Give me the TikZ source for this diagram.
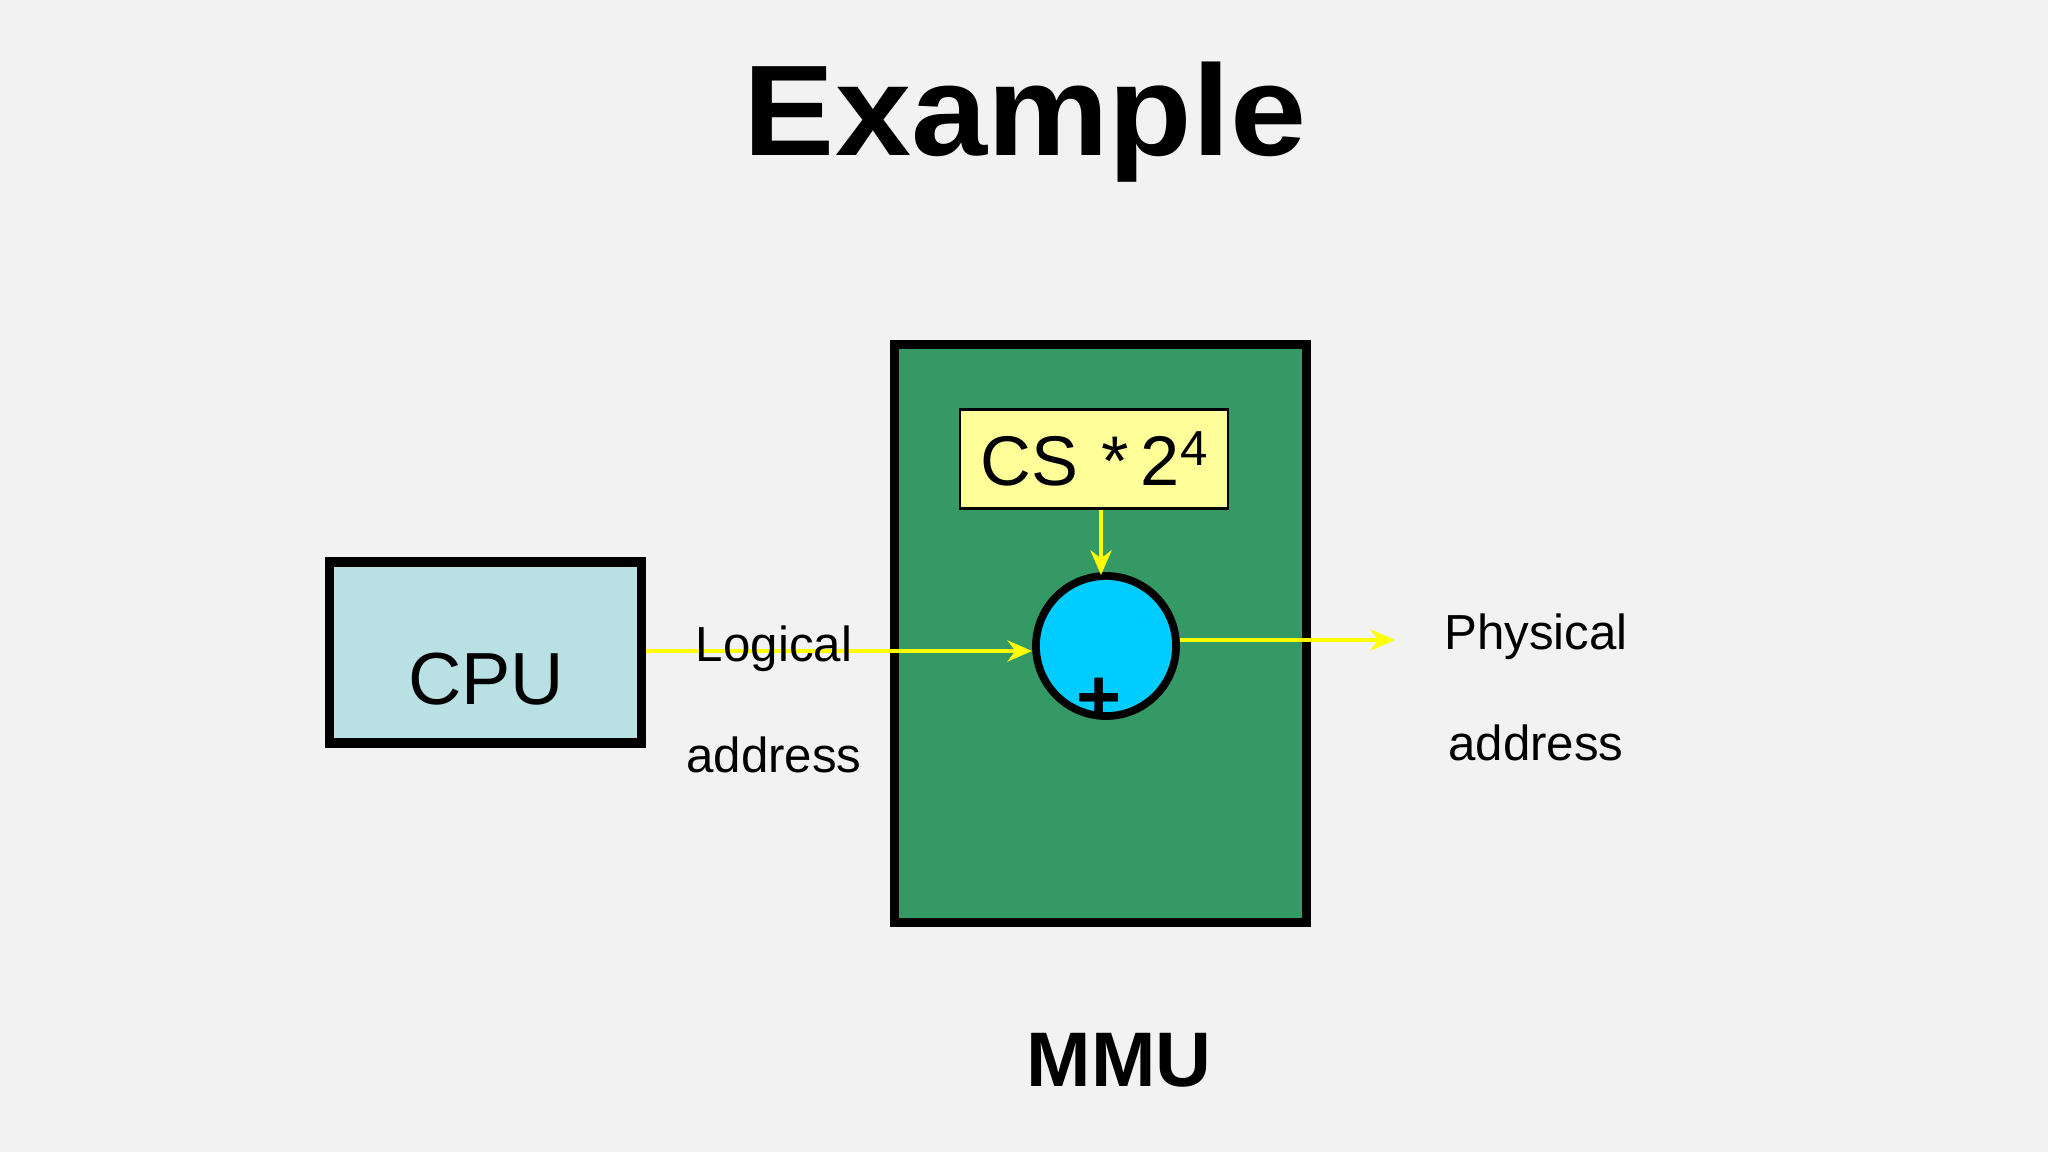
\documentclass[tikz,border=0pt]{standalone}
\usepackage{fontspec}
\setmainfont{Liberation Sans}
\usetikzlibrary{arrows.meta}
\definecolor{bg}{HTML}{F2F2F2}
\definecolor{cpuc}{HTML}{B9E0E3}
\definecolor{mmuc}{HTML}{359966}
\definecolor{csc}{HTML}{FFFF99}
\definecolor{circc}{HTML}{00CCFF}
\definecolor{arr}{HTML}{FFFF00}
\begin{document}
\begin{tikzpicture}[x=0.01cm,y=-0.01cm,
  box/.style={draw=black,line width=2.6pt,inner sep=0pt},
  lab/.style={font=\fontsize{14}{16}\selectfont,inner sep=0pt},
  flow/.style={draw=arr,line width=1.3pt,-{Stealth[length=7pt,width=6pt]}}]
\fill[bg] (0,0) rectangle (2048,1152);
\useasboundingbox (0,0) rectangle (2048,1152);
\node (title) at (1025,122) {\fontsize{36}{40}\selectfont\bfseries\scalebox{1.08}[1.02]{Example}};
\node[box,fill=cpuc,minimum width=3.11cm,minimum height=1.81cm] (cpubox) at (485.5,652.5) {};
\node (cpu) at (486,679) {\fontsize{21}{24}\selectfont CPU};
\node[box,fill=mmuc,minimum width=4.11cm,minimum height=5.77cm] (mmubox) at (1100.5,633.5) {};
\node[draw=black,line width=0.6pt,fill=csc,minimum width=2.68cm,minimum height=0.99cm,inner sep=0pt] (cs) at (1094,459) {\fontsize{20}{24}\selectfont CS\,\,*\,2\raisebox{0.55ex}{\fontsize{14}{16}\selectfont 4}};
\node[circle,draw=black,line width=2.2pt,fill=circc,minimum size=1.4cm,inner sep=0pt] (add) at (1106,646) {};
\node (plus) at (1099,701) {\fontsize{22}{24}\selectfont\bfseries +};
\coordinate (cpuR) at (cpubox.east |- 0,651);
\coordinate (addL) at (add.west |- 0,651);
\draw[flow] (cpuR) -- (addL);
\coordinate (csB) at (cs.south -| 1101,0);
\draw[flow] (csB) -- (1101,575);
\coordinate (out) at (1395,640);
\coordinate (addR) at (add.east |- 0,640);
\draw[flow] (addR) -- (out);
\node[lab] (l1) at (774,649) {Logical};
\node[lab] (l2) at (774,755) {address};
\node[lab] (p1) at (1536,637) {Physical};
\node[lab] (p2) at (1536,743) {address};
\node (mmu) at (1119,1060) {\fontsize{22}{24}\selectfont\bfseries MMU};
\end{tikzpicture}
\end{document}
